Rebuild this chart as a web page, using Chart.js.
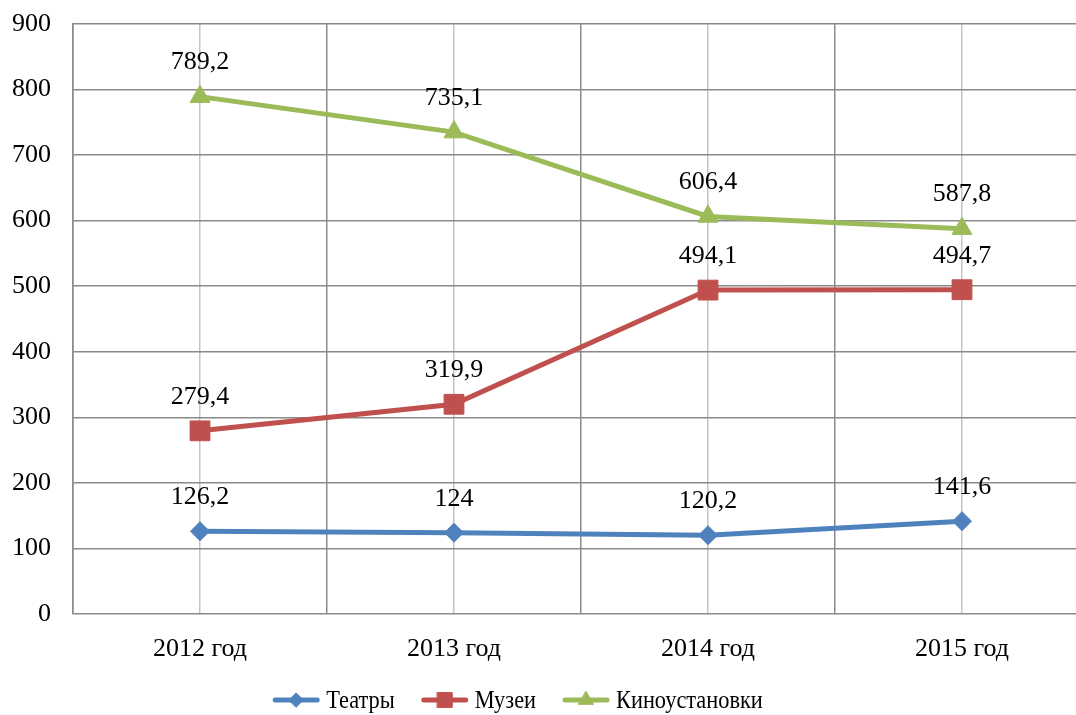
<!DOCTYPE html>
<html>
<head>
<meta charset="utf-8">
<script src="https://cdn.jsdelivr.net/npm/chart.js@4/dist/chart.umd.min.js"></script>
<style>
  html, body { margin: 0; padding: 0; background: #fff; overflow: hidden; }
  #wrap { width: 1104px; height: 715px; }
</style>
</head>
<body>
<div id="wrap"><canvas id="c" width="1104" height="715"></canvas></div>
<script>
// Years on the category axis
const categories = ['2012 год', '2013 год', '2014 год', '2015 год'];

// Series values
const theatres = [126.2, 124, 120.2, 141.6];
const museums = [279.4, 319.9, 494.1, 494.7];
const cinemas = [789.2, 735.1, 606.4, 587.8];

// Series names
const seriesNames = ['Театры', 'Музеи', 'Киноустановки'];

// Value axis range
const yMin = 0, yMax = 900, yStep = 100;

const FONT = '"Liberation Serif", "Times New Roman", serif';
const fmt = v => String(v).replace('.', ',');

// Value labels above each point
const valueLabels = {
  id: 'valueLabels',
  afterDatasetsDraw(chart) {
    const ctx = chart.ctx;
    ctx.save();
    ctx.font = '26px ' + FONT;
    ctx.fillStyle = '#000';
    ctx.textAlign = 'center';
    ctx.textBaseline = 'middle';
    chart.data.datasets.forEach((ds, i) => {
      chart.getDatasetMeta(i).data.forEach((pt, j) => {
        ctx.fillText(fmt(ds.data[j]), pt.x, pt.y - 34);
      });
    });
    ctx.restore();
  }
};

// Legend row under the axis (condensed serif text)
const bottomLegend = {
  id: 'bottomLegend',
  afterDraw(chart) {
    const ctx = chart.ctx;
    const y = 700, lineLen = 46, gapText = 7, gapItem = 27, centerX = 518, squeeze = 0.86;
    ctx.save();
    ctx.font = '26px ' + FONT;
    const tw = ds => ctx.measureText(ds.label).width * squeeze;
    const items = chart.data.datasets.map(ds => ({ ds, w: lineLen + gapText + tw(ds) }));
    const total = items.reduce((s, it) => s + it.w, 0) + gapItem * (items.length - 1);
    let x = centerX - total / 2;
    items.forEach(({ ds }) => {
      ctx.strokeStyle = ds.borderColor;
      ctx.lineWidth = 5;
      ctx.lineCap = 'round';
      ctx.beginPath();
      ctx.moveTo(x + 2, y);
      ctx.lineTo(x + lineLen - 2, y);
      ctx.stroke();
      ctx.fillStyle = ds.backgroundColor;
      ctx.strokeStyle = ds.borderColor;
      ctx.lineWidth = 1;
      Chart.helpers.drawPoint(ctx, {
        pointStyle: ds.pointStyle, radius: ds.pointRadius * 0.75, borderWidth: 1, rotation: 0
      }, x + lineLen / 2, y);
      ctx.save();
      ctx.translate(x + lineLen + gapText, y + 1);
      ctx.scale(squeeze, 1);
      ctx.fillStyle = '#000';
      ctx.textAlign = 'left';
      ctx.textBaseline = 'middle';
      ctx.fillText(ds.label, 0, 0);
      ctx.restore();
      x += lineLen + gapText + tw(ds) + gapItem;
    });
    ctx.restore();
  }
};

function series(label, data, color, style, radius) {
  return {
    label, data,
    borderColor: color,
    backgroundColor: color,
    borderWidth: 5,
    pointStyle: style,
    pointRadius: radius,
    pointHoverRadius: radius,
    pointBorderWidth: 1,
    tension: 0
  };
}

// Keep the plot area driven by layout.padding alone
function noPad(s) { s.paddingTop = 0; s.paddingBottom = 0; s.paddingLeft = 0; s.paddingRight = 0; }

new Chart(document.getElementById('c'), {
  type: 'line',
  data: {
    labels: categories,
    datasets: [
      series(seriesNames[0], theatres, '#4F81BD', 'rectRot', 9.5),
      series(seriesNames[1], museums, '#C0504D', 'rect', 14),
      series(seriesNames[2], cinemas, '#9BBB59', 'triangle', 11.5)
    ]
  },
  options: {
    responsive: false,
    animation: false,
    devicePixelRatio: 1,
    layout: { padding: { top: 24, right: 11, left: 0, bottom: 0 } },
    plugins: { legend: { display: false }, tooltip: { enabled: false } },
    scales: {
      x: {
        type: 'category',
        offset: true,
        grid: { offset: true, color: '#8a8a8a', lineWidth: 1.5, drawTicks: false },
        border: { display: false },
        ticks: { color: '#000', font: { family: FONT, size: 26 }, padding: 20, maxRotation: 0 },
        afterFit(s) { s.height = 101; noPad(s); }
      },
      xc: {
        type: 'category',
        position: 'top',
        offset: true,
        grid: { offset: false, color: '#c4c4c4', lineWidth: 1.5, drawTicks: false },
        border: { display: false },
        ticks: { display: false },
        afterFit(s) { s.height = 0; noPad(s); }
      },
      y: {
        min: yMin, max: yMax,
        ticks: { stepSize: yStep, color: '#000', font: { family: FONT, size: 26 }, padding: 22 },
        grid: { color: '#8a8a8a', lineWidth: 1.5, drawTicks: false },
        border: { display: true, color: '#8a8a8a', width: 1.5 },
        afterFit(s) { s.width = 73; noPad(s); }
      }
    }
  },
  plugins: [valueLabels, bottomLegend]
});
</script>
</body>
</html>
